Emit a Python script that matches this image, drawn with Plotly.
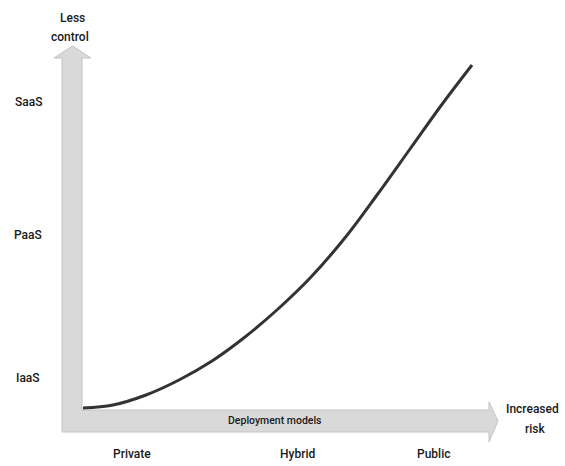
import plotly.graph_objects as go

# Curve: risk vs control (in chart pixel coordinates)
curve_x = [83, 113, 146, 179, 212, 245, 278, 311, 344, 377, 410, 443, 472]
curve_y = [408, 405, 395, 380, 361, 337, 309, 277, 239, 195, 149, 103, 65]

# Deployment models (x categories) and service models (y categories)
deploy_labels = ["Private", "Hybrid", "Public"]
deploy_pos = [132, 297, 433]
service_labels = ["IaaS", "PaaS", "SaaS"]
service_pos = [378, 235, 102]

FONT = "Roboto, Liberation Sans, sans-serif"
TXT = "#1a1a1a"

fig = go.Figure()

fig.add_trace(go.Scatter(
    x=curve_x, y=curve_y, mode="lines",
    line=dict(color="#333333", width=3, shape="spline", smoothing=1.0),
    hoverinfo="skip", showlegend=False))

# Axis arrows (L-shape)
fig.add_shape(
    type="path",
    path="M62,432 L62,58 L54,58 L72.5,46 L91,58 L82,58 L82,410 L489,410 L489,402 "
         "L498,421 L489,442 L489,432 Z",
    xref="x", yref="y", fillcolor="#d9d9d9",
    line=dict(color="#c4c4c4", width=1), layer="below")

annotations = []
for lab, px in zip(deploy_labels, deploy_pos):
    annotations.append(dict(x=px, y=454, text=lab))
for lab, py in zip(service_labels, service_pos):
    annotations.append(dict(x=28, y=py, text=lab))
annotations.append(dict(x=72, y=18, text="Less"))
annotations.append(dict(x=70, y=37, text="control"))
annotations.append(dict(x=532, y=409, text="Increased"))
annotations.append(dict(x=535, y=429, text="risk"))
for a in annotations:
    a.update(xref="x", yref="y", showarrow=False,
             font=dict(size=12, color=TXT, family=FONT, weight=500))
annotations.append(dict(x=275, y=420, text="Deployment models", showarrow=False,
                        xref="x", yref="y",
                        font=dict(size=10.5, color=TXT, family=FONT, weight=500)))

fig.update_layout(
    width=565, height=466,
    margin=dict(l=0, r=0, t=0, b=0),
    paper_bgcolor="white", plot_bgcolor="white",
    xaxis=dict(range=[0, 565], visible=False, fixedrange=True),
    yaxis=dict(range=[466, 0], visible=False, fixedrange=True),
    annotations=annotations,
)

fig.write_html("out.html", post_script="document.body.style.margin='0';",
               config={"displayModeBar": False})
